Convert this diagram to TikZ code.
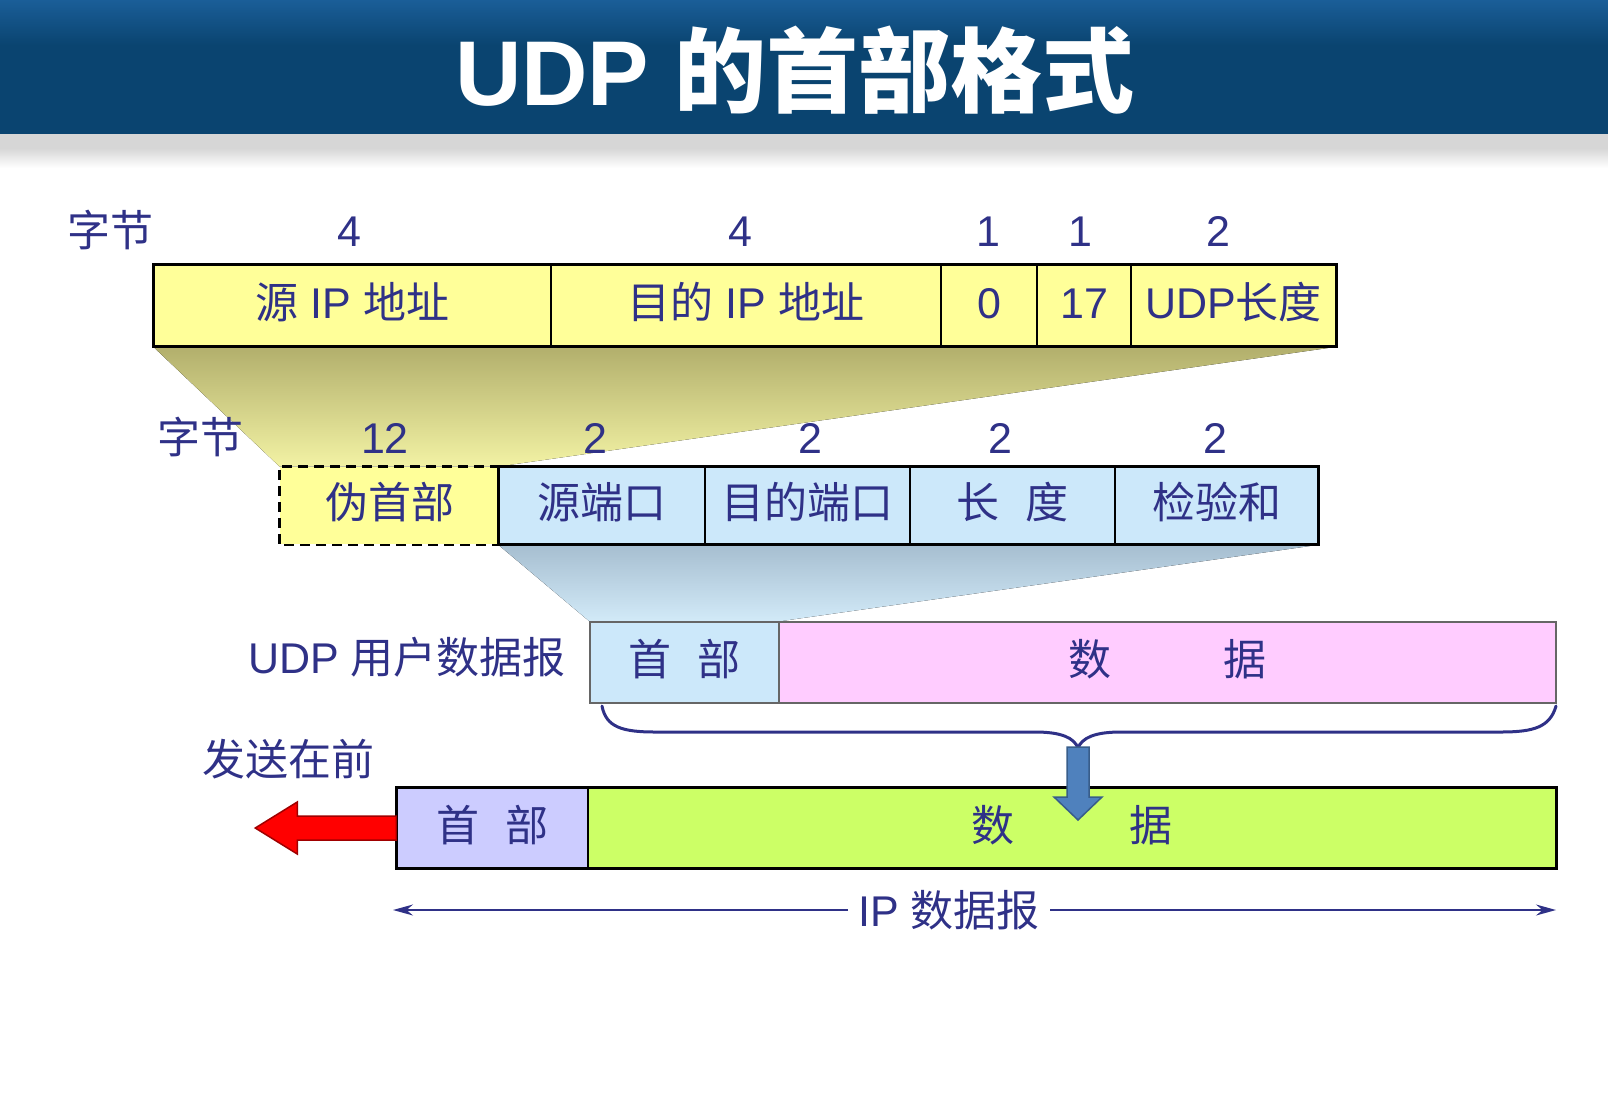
\documentclass[tikz,border=0pt]{standalone}
\usepackage{fontspec}
\setmainfont{Liberation Sans}
\newfontfamily\cjk{Noto Sans CJK SC}
\usetikzlibrary{calc,arrows.meta,backgrounds}
\newcommand\zh[1]{{\cjk #1}}

\definecolor{barblue}{HTML}{0A4470}
\definecolor{bartop}{HTML}{1A5E98}
\definecolor{ink}{HTML}{2F3187}
\definecolor{yel}{HTML}{FFFF99}
\definecolor{ltblue}{HTML}{CCE8FA}
\definecolor{pinkcell}{HTML}{FFCCFF}
\definecolor{lavcell}{HTML}{CCCCFF}
\definecolor{limecell}{HTML}{CCFF66}
\definecolor{arrowblue}{HTML}{4F81BD}
\definecolor{arrowedge}{HTML}{385D8A}
\definecolor{darkred}{HTML}{A00000}
\definecolor{funtop}{HTML}{B2AF6C}
\definecolor{funbot}{HTML}{F2F2A4}
\definecolor{funtopb}{HTML}{A6BED0}
\definecolor{funbotb}{HTML}{D2EAF8}

\tikzset{
  txt/.style={text=ink, inner sep=0pt, font=\fontsize{43}{43}\selectfont},
  cell/.style={txt, draw=black, line width=1.5pt, anchor=center,
    text height=32pt, text depth=6pt},
  lbl/.style={txt, anchor=base},
  outline/.style={draw=black, line width=3pt},
  brace/.style={draw=ink, line width=3pt, line cap=round},
  dim/.style={draw=ink, line width=1.5pt},
}

\begin{document}
\begin{tikzpicture}[x=1pt, y=-1pt]
\useasboundingbox (0,0) rectangle (1608,1100);

% title bar with its shadow
\fill[barblue] (0,0) rectangle (1608,134);
\fill[top color=bartop, bottom color=barblue] (0,0) rectangle (1608,45);
\fill[black!16] (0,134) rectangle (1608,148);
\fill[top color=black!16, bottom color=white] (0,148) rectangle (1608,168);
\node[text=white, inner sep=0pt, font=\fontsize{92}{92}\selectfont\bfseries]
  (title) at (795,70) {UDP \zh{的首部格式}};

% pseudo header (12 bytes)
\node[lbl] (b1) at (110,246) {\zh{字节}};
\node[lbl] (n1) at (349,246) {4};
\node[lbl] (n2) at (740,246) {4};
\node[lbl] (n3) at (988,246) {1};
\node[lbl] (n4) at (1080,246) {1};
\node[lbl] (n5) at (1218,246) {2};

\node[cell, fill=yel, minimum width=397pt, minimum height=81pt] (sip)  at (352.5,305.5) {\zh{源} IP \zh{地址}};
\node[cell, fill=yel, minimum width=390pt, minimum height=81pt] (dip)  at (746,305.5)   {\zh{目的} IP \zh{地址}};
\node[cell, fill=yel, minimum width=96pt,  minimum height=81pt] (zero) at (989,305.5)   {0};
\node[cell, fill=yel, minimum width=94pt,  minimum height=81pt] (prot) at (1084,305.5)  {17};
\node[cell, fill=yel, minimum width=205pt, minimum height=81pt] (ulen) at (1233.5,305.5){UDP\zh{长度}};
\draw[outline] (sip.north west) rectangle (ulen.south east);

% UDP header (8 bytes) preceded by the pseudo header
\node[lbl] (b2) at (200,453) {\zh{字节}};
\node[lbl] (m1) at (385,453) {12};
\node[lbl] (m2) at (595,453) {2};
\node[lbl] (m3) at (810,453) {2};
\node[lbl] (m4) at (1000,453) {2};
\node[lbl] (m5) at (1215,453) {2};

\node[cell, fill=yel, draw=none, minimum width=219pt, minimum height=77pt] (pseudo) at (389.5,505.5) {\zh{伪首部}};
\node[cell, fill=ltblue, minimum width=206pt, minimum height=77pt] (sport) at (602,505.5)    {\zh{源端口}};
\node[cell, fill=ltblue, minimum width=205pt, minimum height=77pt] (dport) at (807.5,505.5)  {\zh{目的端口}};
\node[cell, fill=ltblue, minimum width=205pt, minimum height=77pt] (len)   at (1012.5,505.5) {\zh{长\hspace{27pt}度}};
\node[cell, fill=ltblue, minimum width=203pt, minimum height=77pt] (csum)  at (1216.5,505.5) {\zh{检验和}};
\draw[black, line width=2.5pt, dash pattern=on 10pt off 6pt]
  (pseudo.north east) -- (pseudo.north west) -- (pseudo.south west) -- (pseudo.south east);
\draw[black, line width=2.5pt] (sport.north west) rectangle (csum.south east);

% UDP user datagram
\node[txt, anchor=east] (udplbl) at (566,657) {UDP \zh{用户数据报}};
\node[cell, fill=ltblue, draw=black!60, minimum width=189pt, minimum height=81pt] (uhdr)  at (684.5,662.5) {\zh{首\hspace{27pt}部}};
\node[cell, fill=pinkcell, draw=black!60, minimum width=777pt, minimum height=81pt] (udata) at (1167.5,662.5) {\zh{数\hspace{113pt}据}};

% IP datagram
\node[txt] (first) at (288,759) {\zh{发送在前}};
\node[cell, fill=lavcell, minimum width=191pt, minimum height=80pt] (iphdr)  at (492.5,828) {\zh{首\hspace{27pt}部}};
\node[cell, fill=limecell, minimum width=968pt, minimum height=80pt] (ipdata) at (1072,828) {\zh{数\hspace{115pt}据}};
\draw[outline] (iphdr.north west) rectangle (ipdata.south east);

% funnels between the layers
\begin{pgfonlayer}{background}
  \fill[top color=funtop, bottom color=funbot]
    (sip.south west) -- (ulen.south east) -- (pseudo.north east) -- (pseudo.north west) -- cycle;
  \fill[top color=funtopb, bottom color=funbotb]
    (sport.south west) -- (csum.south east) -- (uhdr.north east) -- (uhdr.north west) -- cycle;
\end{pgfonlayer}

% brace under the UDP datagram
\coordinate (bl) at (602,706);
\coordinate (br) at (1556,706);
\coordinate (btip) at (1078,748);
\draw[brace] (bl) .. controls (606,727) and (622,732) .. (655,732) -- (1035,732)
  .. controls (1062,732) and (1074,738) .. (btip)
  .. controls (1082,738) and (1094,732) .. (1121,732) -- (1501,732)
  .. controls (1534,732) and (1550,727) .. (br);

% block arrow: the datagram becomes the IP data
\filldraw[fill=arrowblue, draw=arrowedge, line width=1.5pt]
  ($(btip)+(-11,-1)$) -- ($(btip)+(-11,49)$) -- ($(btip)+(-24,49)$) -- ($(btip)+(0,72)$)
  -- ($(btip)+(24,49)$) -- ($(btip)+(11,49)$) -- ($(btip)+(11,-1)$) -- cycle;

% block arrow: header is sent first
\filldraw[fill=red, draw=darkred, line width=1.5pt]
  ($(iphdr.west)+(0,-12)$) -- ($(iphdr.west)+(-99,-12)$) -- ($(iphdr.west)+(-99,-26)$)
  -- ($(iphdr.west)+(-141,0)$) -- ($(iphdr.west)+(-99,26)$) -- ($(iphdr.west)+(-99,12)$)
  -- ($(iphdr.west)+(0,12)$) -- cycle;

% extent of the IP datagram
\coordinate (ipL) at (393,910);
\coordinate (ipR) at (1556,910);
\node[txt, inner xsep=10pt] (iplbl) at (949,910) {IP \zh{数据报}};
\draw[dim, -{Stealth[length=20pt,width=11pt]}] (iplbl.west) -- (ipL);
\draw[dim, -{Stealth[length=20pt,width=11pt]}] (iplbl.east) -- (ipR);
\end{tikzpicture}
\end{document}
